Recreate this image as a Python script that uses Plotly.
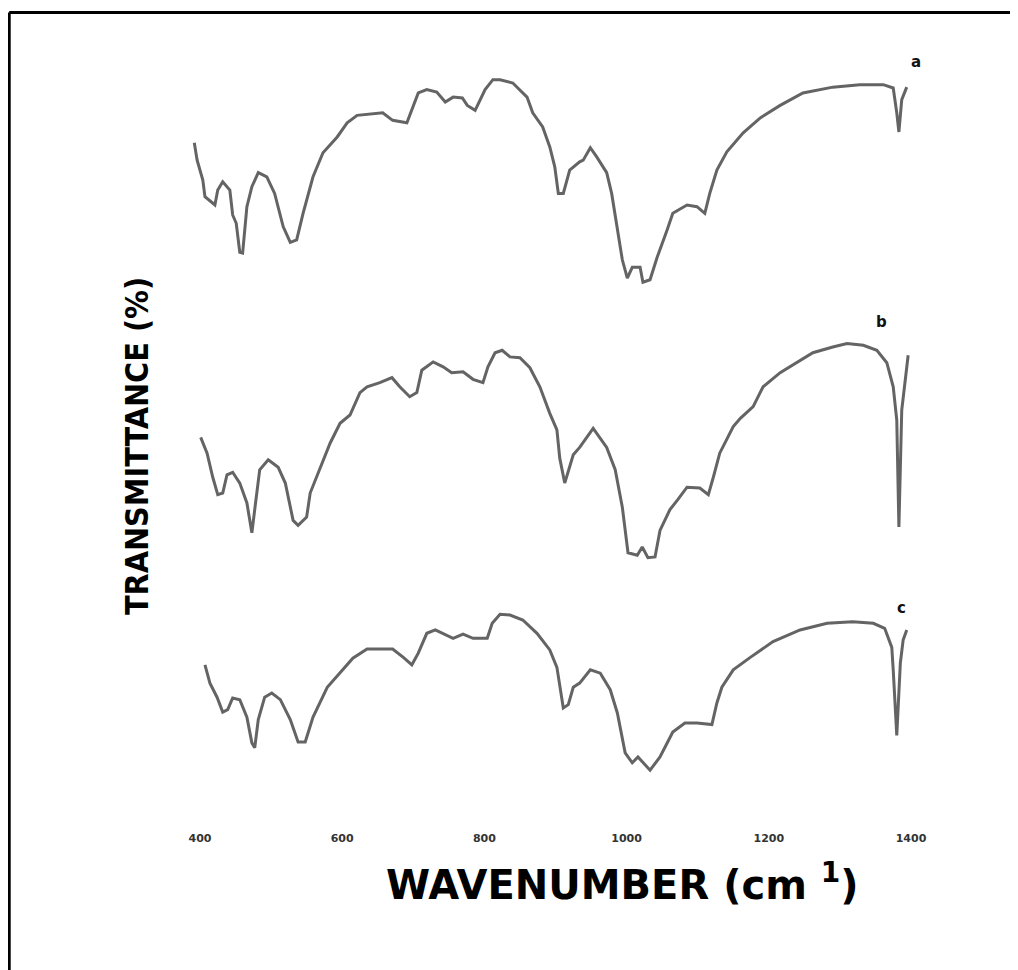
import plotly.graph_objects as go

# ---- Data (wavenumber cm-1, transmittance, arbitrary offset units) ----
wn_a = [392, 396, 404, 407, 421, 425, 432, 442, 446, 451, 456, 460, 466, 473, 482, 494, 505, 517,
        527, 536, 545, 559, 573, 593, 607, 621, 657, 671, 691, 698, 707, 719, 733, 745, 756, 769,
        776, 787, 794, 801, 812, 822, 840, 860, 868, 882, 892, 899, 904, 911, 920, 934, 939, 949,
        958, 972, 979, 987, 994, 1001, 1008, 1019, 1023, 1033, 1043, 1057, 1065, 1085, 1099, 1110,
        1117, 1127, 1141, 1164, 1188, 1216, 1248, 1290, 1328, 1361, 1375, 1380, 1383, 1387, 1394]
t_a = [82.8, 80.7, 78.3, 76.3, 75.3, 77.1, 78.1, 77.1, 74.1, 73.1, 69.6, 69.5, 75.1, 77.5, 79.2,
       78.7, 76.7, 72.7, 70.8, 71.1, 74.3, 78.7, 81.6, 83.5, 85.2, 86.1, 86.4, 85.5, 85.2, 86.7,
       88.8, 89.2, 88.9, 87.7, 88.3, 88.2, 87.3, 86.7, 88.0, 89.2, 90.4, 90.4, 90.0, 88.3, 86.4,
       84.7, 82.3, 79.9, 76.7, 76.7, 79.5, 80.5, 80.7, 82.2, 81.1, 79.2, 76.7, 72.3, 68.7, 66.5,
       67.8, 67.8, 66.0, 66.3, 69.0, 72.3, 74.3, 75.3, 75.1, 74.3, 76.7, 79.5, 81.7, 84.0, 85.8,
       87.3, 88.8, 89.5, 89.8, 89.8, 89.4, 86.4, 84.1, 88.0, 89.5]

wn_b = [401, 410, 418, 425, 432, 438, 446, 456, 466, 473, 477, 484, 496, 510, 520, 531, 538, 550,
        555, 569, 583, 597, 611, 625, 635, 653, 670, 681, 695, 705, 712, 728, 742, 754, 770, 784,
        798, 805, 815, 825, 836, 850, 864, 878, 892, 902, 906, 913, 925, 934, 953, 972, 984, 994,
        1002, 1015, 1022, 1030, 1040, 1047, 1061, 1072, 1085, 1103, 1115, 1122, 1131, 1150, 1160,
        1178, 1192, 1216, 1244, 1262, 1290, 1310, 1333, 1352, 1366, 1375, 1380, 1383, 1387, 1392,
        1396]
t_b = [47.3, 45.4, 42.5, 40.4, 40.6, 42.8, 43.1, 41.8, 39.4, 35.8, 38.6, 43.4, 44.6, 43.7, 41.8,
       37.3, 36.7, 37.7, 40.6, 43.7, 46.6, 49.0, 50.0, 52.7, 53.4, 53.9, 54.5, 53.4, 52.2, 52.7,
       55.4, 56.4, 55.8, 55.1, 55.2, 54.3, 53.9, 55.8, 57.5, 57.8, 57.0, 56.9, 55.7, 53.4, 50.2,
       48.2, 44.8, 41.8, 45.2, 46.1, 48.4, 46.1, 43.4, 38.9, 33.4, 33.1, 34.1, 32.8, 32.9, 36.1,
       38.6, 39.8, 41.3, 41.2, 40.4, 42.5, 45.4, 48.6, 49.6, 51.0, 53.4, 55.1, 56.6, 57.5, 58.2,
       58.6, 58.4, 57.8, 56.3, 53.4, 49.4, 36.5, 50.6, 54.2, 57.2]

wn_c = [407, 414, 424, 432, 439, 446, 456, 466, 473, 477, 482, 491, 501, 513, 527, 538, 548, 559,
        579, 597, 615, 635, 671, 686, 698, 707, 719, 731, 747, 756, 770, 784, 804, 811, 822, 836,
        854, 874, 892, 902, 911, 918, 925, 934, 949, 963, 977, 987, 998, 1008, 1016, 1033, 1047,
        1065, 1082, 1099, 1120, 1127, 1134, 1150, 1174, 1206, 1244, 1282, 1318, 1347, 1363, 1373,
        1375, 1380, 1385, 1389, 1394]
t_c = [19.9, 17.7, 16.0, 14.2, 14.5, 15.9, 15.7, 13.6, 10.5, 9.9, 13.3, 16.0, 16.5, 15.7, 13.3,
       10.6, 10.6, 13.6, 17.2, 18.9, 20.7, 21.8, 21.8, 20.8, 19.9, 21.3, 23.7, 24.1, 23.5, 23.1,
       23.6, 23.1, 23.1, 24.9, 26.0, 25.9, 25.3, 23.7, 21.7, 19.6, 14.7, 15.1, 17.2, 17.7, 19.3,
       18.9, 16.9, 14.1, 9.3, 8.1, 8.8, 7.2, 8.8, 11.8, 12.9, 12.9, 12.7, 15.3, 17.2, 19.3, 20.8,
       22.7, 24.1, 24.9, 25.1, 24.9, 24.3, 22.0, 19.3, 11.4, 20.1, 22.9, 24.1]

tick_vals = [400, 600, 800, 1000, 1200, 1400]
tick_text = ["400", "600", "800", "1000", "1200", "1400"]

labels = ["a", "b", "c"]
label_wn = [1407, 1359, 1387]
label_t = [92.5, 61.2, 26.7]

LINE = "rgb(100,100,100)"

fig = go.Figure()
for name, xs, ys in [("a", wn_a, t_a), ("b", wn_b, t_b), ("c", wn_c, t_c)]:
    fig.add_trace(go.Scatter(x=xs, y=ys, mode="lines", name=name,
                             line=dict(color=LINE, width=3), showlegend=False,
                             hoverinfo="skip"))

for lab, lx, ly in zip(labels, label_wn, label_t):
    fig.add_annotation(x=lx, y=ly, text="<b>" + lab + "</b>", showarrow=False,
                       font=dict(family="DejaVu Sans", size=15, color="#111"))

# axis titles as annotations (positioned like the reference)
fig.add_annotation(xref="paper", yref="paper", x=0.608, y=-0.0633,
                   text="<b>WAVENUMBER (cm <sup>1</sup>)</b>", showarrow=False,
                   font=dict(family="DejaVu Sans", size=40, color="#000"),
                   xanchor="center", yanchor="middle")
fig.add_annotation(xref="paper", yref="paper", x=0.1277, y=0.467,
                   text="<b>TRANSMITTANCE (%)</b>", showarrow=False, textangle=-90,
                   font=dict(family="DejaVu Sans Condensed, Liberation Sans Narrow, sans-serif",
                             size=32, color="#000"),
                   xanchor="center", yanchor="middle")

# frame lines (top and left only)
fig.add_shape(type="line", xref="paper", yref="paper", x0=0.0012, x1=1.05, y0=0.9945, y1=0.9945,
              line=dict(color="black", width=3))
fig.add_shape(type="line", xref="paper", yref="paper", x0=0.0012, x1=0.0012, y0=0.9945, y1=-0.25,
              line=dict(color="black", width=3))

fig.update_layout(
    width=1010, height=962,
    margin=dict(l=0, r=0, t=0, b=140),
    paper_bgcolor="white", plot_bgcolor="white",
    xaxis=dict(range=[130.0, 1550.5], tickvals=tick_vals, ticktext=tick_text,
               showgrid=False, zeroline=False, showline=False, ticks="",
               tickfont=dict(family="DejaVu Sans", size=11, color="#333", weight="bold")),
    yaxis=dict(range=[0, 99.036], visible=False, showgrid=False, zeroline=False),
)

fig.write_html("out.html")
